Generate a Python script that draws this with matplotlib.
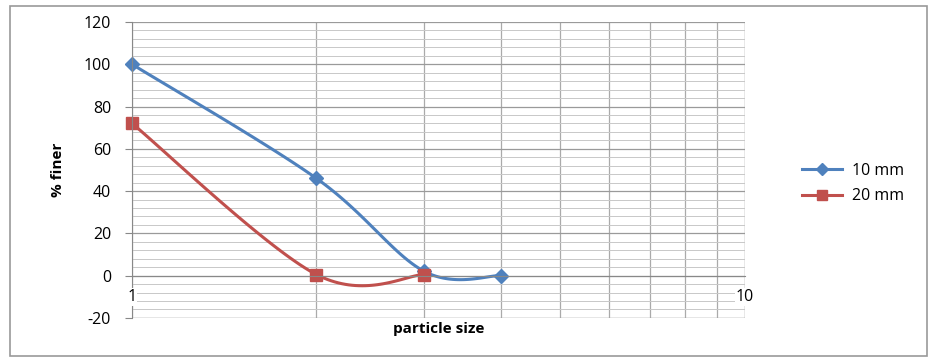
import numpy as np
import matplotlib.pyplot as plt
from matplotlib.patches import Rectangle
from matplotlib.ticker import MultipleLocator, FixedLocator, NullFormatter

plt.rcParams['font.family'] = ['Open Sans', 'DejaVu Sans']
plt.rcParams['axes.unicode_minus'] = False

# data
size_10 = [1, 2, 3, 4]
finer_10 = [100, 46, 2, 0]
size_20 = [1, 2, 3]
finer_20 = [72, 0.5, 0.5]
x_ticks = [1, 10]
x_tick_labels = ['1', '10']

blue = '#4F81BD'
red = '#C0504D'


# Excel-style smoothed line: cardinal bezier in display space
def smooth_curve(ax, xs, ys, n=40):
    pts = ax.transData.transform(np.column_stack([xs, ys]))
    out = [pts[0]]
    for i in range(len(pts) - 1):
        p0 = pts[i - 1] if i > 0 else pts[i]
        p1 = pts[i]
        p2 = pts[i + 1]
        p3 = pts[i + 2] if i + 2 < len(pts) else pts[i + 1]
        c1 = p1 + (p2 - p0) / 6.0
        c2 = p2 - (p3 - p1) / 6.0
        t = np.linspace(0, 1, n)[1:, None]
        seg = ((1 - t) ** 3) * p1 + 3 * ((1 - t) ** 2) * t * c1 + 3 * (1 - t) * t ** 2 * c2 + t ** 3 * p2
        out.extend(seg)
    out = np.array(out)
    data = ax.transData.inverted().transform(out)
    return data[:, 0], data[:, 1]


fig = plt.figure(figsize=(9.31, 3.60), dpi=100)
ax = fig.add_axes([0.1418, 0.117, 0.658, 0.822])
ax.set_xscale('log')
ax.set_xlim(1, 10)
ax.set_ylim(-20, 120)

ax.yaxis.set_major_locator(MultipleLocator(20))
ax.yaxis.set_minor_locator(MultipleLocator(4))
ax.xaxis.set_major_locator(FixedLocator(x_ticks))
ax.xaxis.set_minor_locator(FixedLocator(list(range(2, 10))))
ax.xaxis.set_major_formatter(NullFormatter())
ax.xaxis.set_minor_formatter(NullFormatter())

ax.grid(which='major', axis='y', color='#9a9a9a', lw=0.9)
ax.grid(which='minor', axis='y', color='#c8c8c8', lw=0.7)
ax.grid(which='both', axis='x', color='#aaaaaa', lw=0.9)
ax.set_axisbelow(True)

for s in ['top', 'right']:
    ax.spines[s].set_visible(False)
ax.spines['left'].set_color('#888888')
ax.spines['bottom'].set_color('#888888')
ax.spines['bottom'].set_position(('data', 0))
ax.axhline(-20, color='#9a9a9a', lw=0.9, zorder=0.5)
ax.axvline(10, color='#9a9a9a', lw=0.9, zorder=0.5)

ax.tick_params(axis='y', which='major', length=5, color='#888888', labelsize=11.5, pad=10)
ax.tick_params(axis='y', which='minor', length=0)
ax.tick_params(axis='x', which='both', length=0)

# x tick labels sit below the axis that crosses at 0
for xv, lab in zip(x_ticks, x_tick_labels):
    ax.text(xv, -10, lab, ha='center', va='center', fontsize=11.5, zorder=6,
            clip_on=False, bbox=dict(facecolor='white', edgecolor='none', pad=0.6))

fig.canvas.draw()
bx, by = smooth_curve(ax, size_10, finer_10)
rx, ry = smooth_curve(ax, size_20, finer_20)
ax.plot(bx, by, color=blue, lw=2.2, solid_capstyle='round')
ax.plot(rx, ry, color=red, lw=2.2, solid_capstyle='round')
ax.plot(size_10, finer_10, ls='none', marker='D', ms=7, color=blue, clip_on=False)
ax.plot(size_20, finer_20, ls='none', marker='s', ms=8.5, color=red, clip_on=False)

ax.set_ylabel('% finer', fontsize=11, fontweight='bold', labelpad=14)
ax.yaxis.set_label_coords(-0.11, 0.5)
ax.set_xlabel('particle size', fontsize=11, fontweight='bold')
ax.xaxis.set_label_coords(0.5, -0.015)

# legend
h1, = ax.plot([], [], color=blue, lw=2.2, marker='D', ms=6)
h2, = ax.plot([], [], color=red, lw=2.2, marker='s', ms=7)
fig.legend([h1, h2], ['10 mm', '20 mm'], loc='center left',
           bbox_to_anchor=(0.846, 0.49), frameon=False, fontsize=11.5,
           handlelength=2.5, labelspacing=0.6, handletextpad=0.6)

fig.add_artist(Rectangle((0.011, 0.012), 0.985, 0.972, transform=fig.transFigure,
                         fill=False, edgecolor='#999999', lw=1.2))

fig.savefig('out.png', dpi=100)
